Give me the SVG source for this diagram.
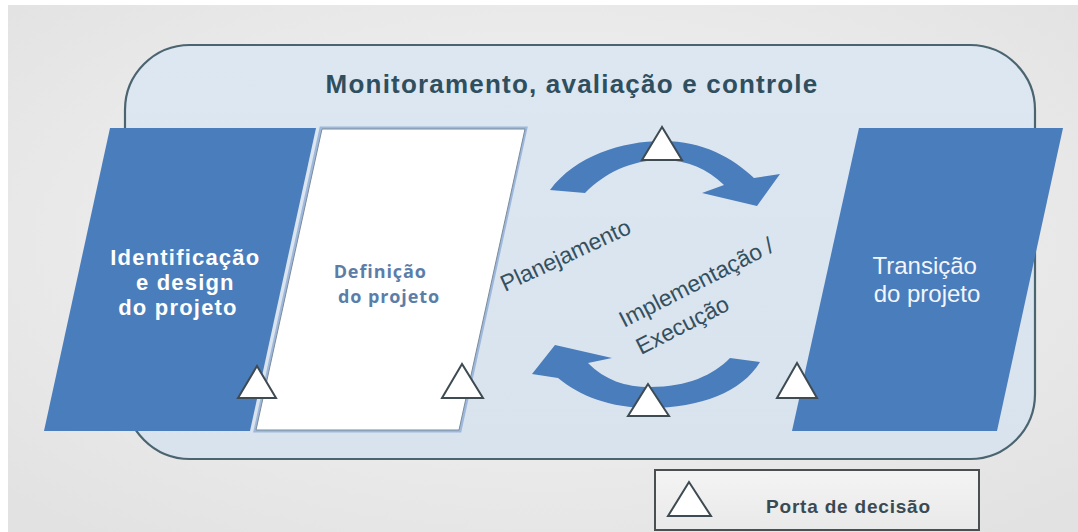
<svg xmlns="http://www.w3.org/2000/svg" width="1078" height="532" viewBox="0 0 1078 532">
  <defs>
    <radialGradient id="bg" cx="0.5" cy="0.45" r="0.7">
      <stop offset="0" stop-color="#f6f6f6"/>
      <stop offset="1" stop-color="#e2e2e2"/>
    </radialGradient>
    <linearGradient id="frameFill" x1="0" y1="0" x2="0" y2="1">
      <stop offset="0" stop-color="#dde7f2"/>
      <stop offset="1" stop-color="#d9e3ee"/>
    </linearGradient>
    <linearGradient id="legendFill" x1="0" y1="0" x2="0" y2="1">
      <stop offset="0" stop-color="#f4f4f4"/>
      <stop offset="1" stop-color="#e9e9e9"/>
    </linearGradient>
    <style>
      .blue { fill: #4a7dbb; }
      .gate { fill: #ffffff; stroke: #3e4b52; stroke-width: 2; stroke-linejoin: miter; }
      .arc { fill: #4a7dbb; }
      .white-b { font-family: "Liberation Sans", Arial, sans-serif; font-weight: bold; fill: #ffffff; }
      .white-r { font-family: "Liberation Sans", Arial, sans-serif; fill: #f2f6fb; }
      .rot { font-family: "Liberation Sans", Arial, sans-serif; font-size: 23px; fill: #34505f; }
    </style>
  </defs>

  <!-- background -->
  <rect x="0" y="0" width="1078" height="532" fill="#ffffff"/>
  <rect x="8" y="5" width="1070" height="527" fill="url(#bg)"/>

  <!-- outer monitoring frame -->
  <g id="frame">
    <rect x="125" y="45" width="910" height="414" rx="65" ry="65" fill="url(#frameFill)" stroke="#4b6570" stroke-width="2.2"/>
    <text x="572" y="93" text-anchor="middle" font-family="'Liberation Sans', Arial, sans-serif" font-weight="bold" font-size="26" letter-spacing="1.2" fill="#2f4f5e">Monitoramento, avaliação e controle</text>
  </g>

  <!-- phase nodes -->
  <g id="node-identificacao">
    <polygon class="blue" points="110,128 316,128 250,431 44,431"/>
    <text class="white-b" font-size="22" letter-spacing="1.2" text-anchor="middle">
      <tspan x="189" y="265">Identificação</tspan>
      <tspan x="189" y="290">e design</tspan>
      <tspan x="178" y="315">do projeto</tspan>
    </text>
  </g>

  <g id="node-definicao">
    <polygon points="321,128 526,128 460,431 255,431" fill="#ffffff" stroke="#9db8dc" stroke-width="3"/>
    <polygon points="322,129 525,129 459,430 256,430" fill="#ffffff" stroke="#7b8b99" stroke-width="1"/>
    <text font-family="'Open Sans', 'Liberation Sans', sans-serif" font-weight="bold" font-size="18" letter-spacing="0.9" fill="#5b7ea9" text-anchor="middle">
      <tspan x="383" y="278">Definição</tspan>
      <tspan x="389" y="303">do projeto</tspan>
    </text>
  </g>

  <g id="node-transicao">
    <polygon class="blue" points="859,128 1063,128 997,431 792,431"/>
    <text class="white-r" font-size="24" text-anchor="middle">
      <tspan x="928" y="274">Transição</tspan>
      <tspan x="927" y="302">do projeto</tspan>
    </text>
  </g>

  <!-- cycle arrows -->
  <g id="connectors">
    <path class="arc" d="M550,190 C575,156 622,141 663,141 C703,141 733,158 754,178 L780,174 L757,206 L702,193 L724,185 C707,169 688,160 663,160 C630,160 605,173 585,193 Z"/>
    <path class="arc" d="M532,374 L555,345 L612,358 L588,363 C605,380 625,387 650,387 C688,387 713,375 730,358 L760,362 C742,392 700,408 650,408 C610,408 580,396 558,378 Z"/>
  </g>

  <!-- labels on the cycle -->
  <g id="labels">
    <text class="rot" transform="translate(505,292) rotate(-25)">Planejamento</text>
    <text class="rot" transform="translate(624,328) rotate(-27)">Implementação /</text>
    <text class="rot" transform="translate(641,355) rotate(-27)">Execução</text>
  </g>

  <!-- decision gates -->
  <g id="gates">
    <polygon class="gate" points="662,127 642,160 682,160"/>
    <polygon class="gate" points="257,366 238,398 276,398"/>
    <polygon class="gate" points="462,364 442,398 483,398"/>
    <polygon class="gate" points="797,363 777,398 817,398"/>
    <polygon class="gate" points="648,384 628,416 669,416"/>
  </g>

  <!-- legend -->
  <g id="legend">
    <rect x="655" y="470" width="324" height="60" fill="url(#legendFill)" stroke="#4a4f52" stroke-width="2"/>
    <polygon class="gate" points="689,482 668,516 711,516"/>
    <text x="766" y="513" font-family="'Liberation Sans', Arial, sans-serif" font-weight="bold" font-size="19" letter-spacing="0.8" fill="#3a4a52">Porta de decisão</text>
  </g>
</svg>
